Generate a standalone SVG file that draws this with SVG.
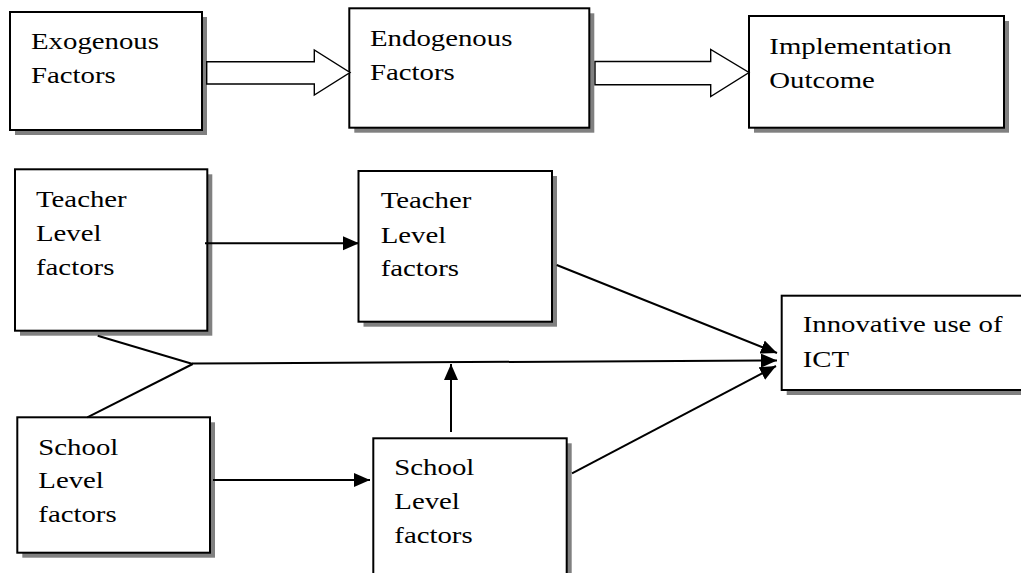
<svg xmlns="http://www.w3.org/2000/svg" width="1021" height="573" viewBox="0 0 1021 573">
<style>
.sh{fill:#808080;stroke:none}
.bx{fill:#fff;stroke:#000;stroke-width:2}
.t{font-family:"Liberation Serif","Times New Roman",serif;font-size:24px;fill:#000}
.ln{stroke:#000;stroke-width:2;fill:none}
.ar{stroke:#000;stroke-width:2;fill:none;marker-end:url(#ah)}
.blk{fill:#fff;stroke:#000;stroke-width:1.4;stroke-linejoin:miter}
</style>
<defs>
<marker id="ah" markerUnits="userSpaceOnUse" markerWidth="17" markerHeight="15" refX="16" refY="7" orient="auto">
<path d="M0,0 L16,7 L0,14 z" fill="#000"/>
</marker>
</defs>
<rect width="1021" height="573" fill="#fff"/>

<g id="exogenous">
<rect class="sh" x="15" y="17" width="192" height="118"/>
<rect class="bx" x="10" y="12" width="192" height="118"/>
<text class="t" transform="translate(31 49) scale(1.2 1)"><tspan x="0" y="0">Exogenous</tspan><tspan x="0" y="33.7">Factors</tspan></text>
</g>

<g id="endogenous">
<rect class="sh" x="354.3" y="13.3" width="240" height="119.4"/>
<rect class="bx" x="349.3" y="8.3" width="240" height="119.4"/>
<text class="t" transform="translate(370 45.7) scale(1.2 1)"><tspan x="0" y="0">Endogenous</tspan><tspan x="0" y="34.3">Factors</tspan></text>
</g>

<g id="outcome">
<rect class="sh" x="754" y="21" width="255" height="111.7"/>
<rect class="bx" x="749" y="16" width="255" height="111.7"/>
<text class="t" transform="translate(769.3 54.3) scale(1.2 1)"><tspan x="0" y="0">Implementation</tspan><tspan x="0" y="34">Outcome</tspan></text>
</g>

<g id="teacher-exo">
<rect class="sh" x="20" y="174.3" width="192.3" height="161.4"/>
<rect class="bx" x="15" y="169.3" width="192.3" height="161.4"/>
<text class="t" transform="translate(36 206.7) scale(1.2 1)"><tspan x="0" y="0">Teacher</tspan><tspan x="0" y="34.3">Level</tspan><tspan x="0" y="68.3">factors</tspan></text>
</g>

<g id="teacher-endo">
<rect class="sh" x="363.5" y="176" width="193.5" height="150.7"/>
<rect class="bx" x="358.5" y="171" width="193.5" height="150.7"/>
<text class="t" transform="translate(380.7 208.3) scale(1.2 1)"><tspan x="0" y="0">Teacher</tspan><tspan x="0" y="35">Level</tspan><tspan x="0" y="67.7">factors</tspan></text>
</g>

<g id="innovative">
<rect class="sh" x="786.7" y="300.7" width="250" height="94.3"/>
<rect class="bx" x="781.7" y="295.7" width="250" height="94.3"/>
<text class="t" transform="translate(802.7 331.7) scale(1.2 1)"><tspan x="0" y="0">Innovative use of</tspan><tspan x="0" y="35">ICT</tspan></text>
</g>

<g id="school-exo">
<rect class="sh" x="22.3" y="422.3" width="192.7" height="135.4"/>
<rect class="bx" x="17.3" y="417.3" width="192.7" height="135.4"/>
<text class="t" transform="translate(38.3 455) scale(1.2 1)"><tspan x="0" y="0">School</tspan><tspan x="0" y="33.3">Level</tspan><tspan x="0" y="67.3">factors</tspan></text>
</g>

<g id="school-endo">
<rect class="sh" x="378.3" y="443.3" width="193.4" height="145"/>
<rect class="bx" x="373.3" y="438.3" width="193.4" height="145"/>
<text class="t" transform="translate(394.3 475) scale(1.2 1)"><tspan x="0" y="0">School</tspan><tspan x="0" y="34.5">Level</tspan><tspan x="0" y="68.3">factors</tspan></text>
</g>

<g id="connectors">
<path class="blk" d="M206.7,61.7 H314.3 V50 L350,72.5 L314.3,95 V84 H206.7 Z"/>
<path class="blk" d="M595,61.5 H710.7 V49.5 L749,72.5 L710.7,96.5 V84.7 H595 Z"/>
<line class="ar" x1="205" y1="243.3" x2="359" y2="243.3"/>
<line class="ar" x1="213" y1="480" x2="370" y2="480"/>
<line class="ar" x1="556.7" y1="265" x2="777" y2="353"/>
<line class="ar" x1="192" y1="363.5" x2="777" y2="360.5"/>
<line class="ar" x1="572" y1="473.3" x2="776" y2="366"/>
<line class="ar" x1="451" y1="432" x2="451" y2="364"/>
<line class="ln" x1="97.7" y1="335.7" x2="192.7" y2="364"/>
<line class="ln" x1="87.3" y1="417.3" x2="192.7" y2="364"/>
</g>
</svg>
